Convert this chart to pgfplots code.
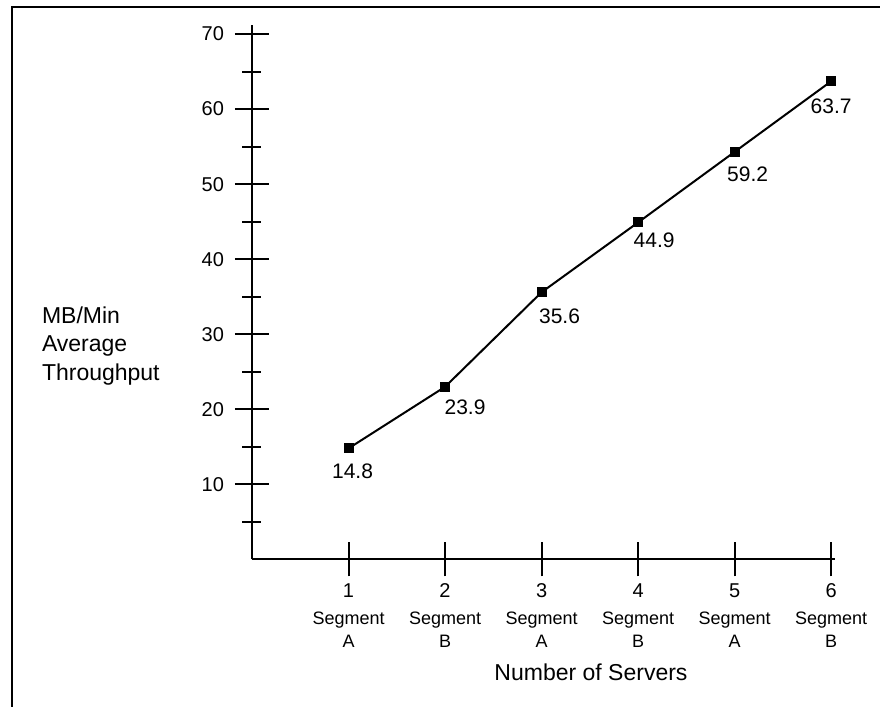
\documentclass[border=0pt]{standalone}
\usepackage{pgfplots}
\pgfplotsset{compat=1.18}
\usepackage{pgfplotstable}
\usepackage{fontspec}
\setmainfont{Liberation Sans}
\newcommand\segf{\fontsize{9}{11}\selectfont}
\newcommand\xl[2]{\begin{tabular}{@{}c@{}}#1\\[1.5pt]\segf Segment\\[-0.5pt]\segf #2\end{tabular}}
\pgfplotstableread{
x y lab dx dy
1 14.8 14.8 2 7
2 23.0 23.9 10 6
3 35.6 35.6 9 8
4 44.9 44.9 8 4.5
5 54.3 59.2 6.5 7
6 63.7 63.7 0 8.5
}\datatable
\begin{document}
\begin{tikzpicture}
\useasboundingbox (0,0) rectangle (440pt,353.5pt);
\draw[line width=1pt] (6pt,-5pt) -- (6pt,350pt) -- (450pt,350pt);
\begin{axis}[
  at={(126pt,73.75pt)}, anchor=south west,
  scale only axis,
  width=291.5pt, height=267.25pt,
  xmin=0, xmax=6.04, ymin=0, ymax=71.2,
  axis lines=left,
  axis line style={-, line width=1pt},
  every tick/.style={black, line width=1pt},
  tick align=center,
  major tick length=17pt,
  minor tick length=9.5pt,
  xtick={1,2,3,4,5,6},
  xticklabels={{\xl{1}{A}},{\xl{2}{B}},{\xl{3}{A}},{\xl{4}{B}},{\xl{5}{A}},{\xl{6}{B}}},
  xticklabel style={font=\fontsize{10}{12}\selectfont, anchor=north, yshift=1.5pt},
  ytick={10,20,...,70},
  minor ytick={5,15,...,65},
  yticklabel style={font=\fontsize{10}{12}\selectfont, anchor=east, xshift=-2pt},
  /pgf/number format/assume math mode=true,
  clip=false,
]
\addplot[black, line width=1pt, mark=square*, mark size=2pt,
  visualization depends on={\thisrow{dx} \as \dx},
  visualization depends on={\thisrow{dy} \as \dy},
  nodes near coords,
  point meta=explicit symbolic,
  nodes near coords style={font=\fontsize{10.5}{12}\selectfont, anchor=north, inner sep=0pt, xshift=\dx pt, yshift=-\dy pt},
] table[x=x, y=y, meta=lab] {\datatable};
\end{axis}
\node[font=\fontsize{11.5}{14.3}\selectfont, align=left, anchor=north west, inner sep=0pt] at (20.8pt,200.5pt) {MB/Min\\Average\\Throughput};
\node[font=\fontsize{11.5}{14}\selectfont, inner sep=0pt] at (295.5pt,17.5pt) {Number of Servers};
\end{tikzpicture}
\end{document}
